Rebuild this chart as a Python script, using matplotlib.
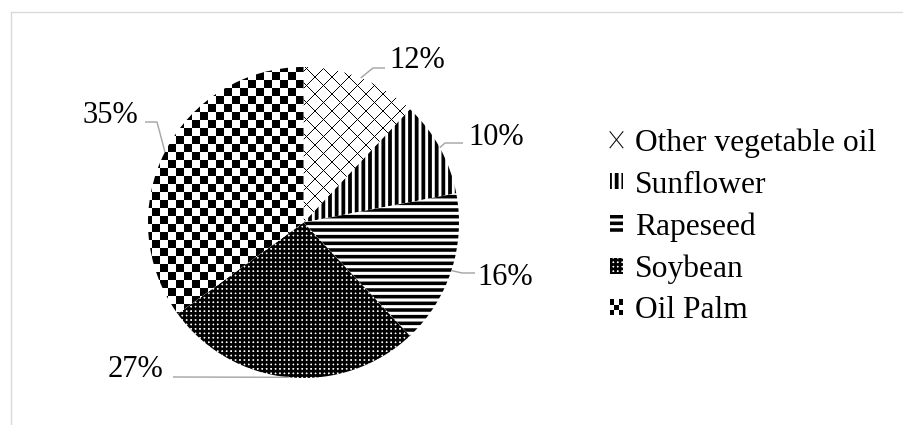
import numpy as np
import matplotlib.pyplot as plt
from matplotlib.legend_handler import HandlerBase
from matplotlib.patches import Rectangle
from matplotlib.lines import Line2D

# data
labels = ['Other vegetable oil', 'Sunflower', 'Rapeseed', 'Soybean', 'Oil Palm']
shares = [12, 10, 16, 27, 35]

# fill style per slice: hatch for the striped ones, pixel texture for the others
hatches = [None, '||', '--', '+++', None]
hatch_lw = [0, 3.4, 3.2, 2.4, 0]

W, H, DPI = 903, 425, 80
CX, CY, R = 303.5, 222.5, 155.5   # pie centre / radius in pixels
FS_LABEL = 27.5
FS_LEGEND = 28.4


def px(x, y):
    # pixel position -> data coords of the pie axes
    return (x - CX) / R, (CY - y) / R


# label anchors and leader bends, in pixels
label_pos = [(389, 68), (468, 145), (477, 285), (163, 377), (138, 123)]
label_ha = ['left', 'left', 'left', 'right', 'right']
leader_pts = [[(373, 68), (385, 68)],
              [(445, 143), (463, 143)],
              [(462, 273), (475, 273)],
              [(173, 377)],
              [(157, 122), (145, 122)]]

plt.rcParams['font.family'] = ['Liberation Serif', 'DejaVu Serif']


class CheckerHandler(HandlerBase):
    def create_artists(self, legend, orig_handle, xdescent, ydescent,
                       width, height, fontsize, trans):
        cw, ch = width / 3, height / 3
        return [Rectangle((-xdescent + i * cw, -ydescent + j * ch), cw, ch,
                          facecolor='black', edgecolor='none', transform=trans)
                for i in range(3) for j in range(3) if (i + j) % 2 == 0]


class CrossHandler(HandlerBase):
    def create_artists(self, legend, orig_handle, xdescent, ydescent,
                       width, height, fontsize, trans):
        x0, y0 = -xdescent, -ydescent
        return [Line2D([x0, x0 + width], [y0, y0 + height], color='black',
                       lw=0.9, transform=trans),
                Line2D([x0, x0 + width], [y0 + height, y0], color='black',
                       lw=0.9, transform=trans)]


fig = plt.figure(figsize=(W / DPI, H / DPI), dpi=DPI)
ax = fig.add_axes([0, 0, 1, 1])

wedges, _ = ax.pie(shares, startangle=90, counterclock=False, radius=1,
                   colors=['white'] * len(shares),
                   wedgeprops=dict(edgecolor='black', linewidth=0))
for w, h, lw in zip(wedges, hatches, hatch_lw):
    if h:
        w.set_hatch(h)
        w.set_hatch_linewidth(lw)

xlim = (-CX / R, (W - CX) / R)
ylim = ((CY - H) / R, CY / R)

# pixel textures: crosshatch for Other vegetable oil, checkerboard for Oil Palm
yy, xx = np.mgrid[0:H, 0:W]
cross = (((xx + yy) % 17 == 0) | ((xx - yy) % 17 == 0)).astype(float)
checker = ((xx // 8 + yy // 8) % 2).astype(float)
for tex, w in [(cross, wedges[0]), (checker, wedges[4])]:
    im = ax.imshow(tex, cmap='binary', interpolation='nearest', zorder=2,
                   origin='upper', extent=(xlim[0], xlim[1], ylim[0], ylim[1]),
                   vmin=0, vmax=1)
    im.set_clip_path(w)

# percentage labels with leader lines
for i, w in enumerate(wedges):
    ang = np.deg2rad((w.theta1 + w.theta2) / 2)
    pts = [(np.cos(ang), np.sin(ang))] + [px(*p) for p in leader_pts[i]]
    xs, ys = zip(*pts)
    ax.plot(xs, ys, color='#a6a6a6', lw=1.3, solid_capstyle='butt', zorder=3)
    tx, ty = px(*label_pos[i])
    ax.text(tx, ty, '{}%'.format(shares[i]), ha=label_ha[i], va='baseline',
            fontsize=FS_LABEL)

leg = ax.legend(wedges, labels, loc='center left',
                bbox_to_anchor=(610 / W, 1 - 227 / H), bbox_transform=fig.transFigure,
                frameon=False, fontsize=FS_LEGEND, handlelength=0.41, handleheight=0.41,
                handletextpad=0.38, labelspacing=0.4, borderpad=0, borderaxespad=0,
                handler_map={wedges[0]: CrossHandler(), wedges[4]: CheckerHandler()})
for p in leg.get_patches():
    for w, lw in zip(wedges, hatch_lw):
        if p.get_hatch() and p.get_hatch() == w.get_hatch():
            p.set_hatch_linewidth(lw)

ax.set_xlim(xlim)
ax.set_ylim(ylim)
ax.set_aspect('auto')
ax.axis('off')

# light outer frame (left and top edges visible)
fig.add_artist(Line2D([11 / W, 11 / W], [0, 1 - 12 / H], color='#d9d9d9', lw=1.2))
fig.add_artist(Line2D([11 / W, 1], [1 - 12 / H, 1 - 12 / H], color='#d9d9d9', lw=1.2))

plt.savefig('out.png', dpi=DPI)
